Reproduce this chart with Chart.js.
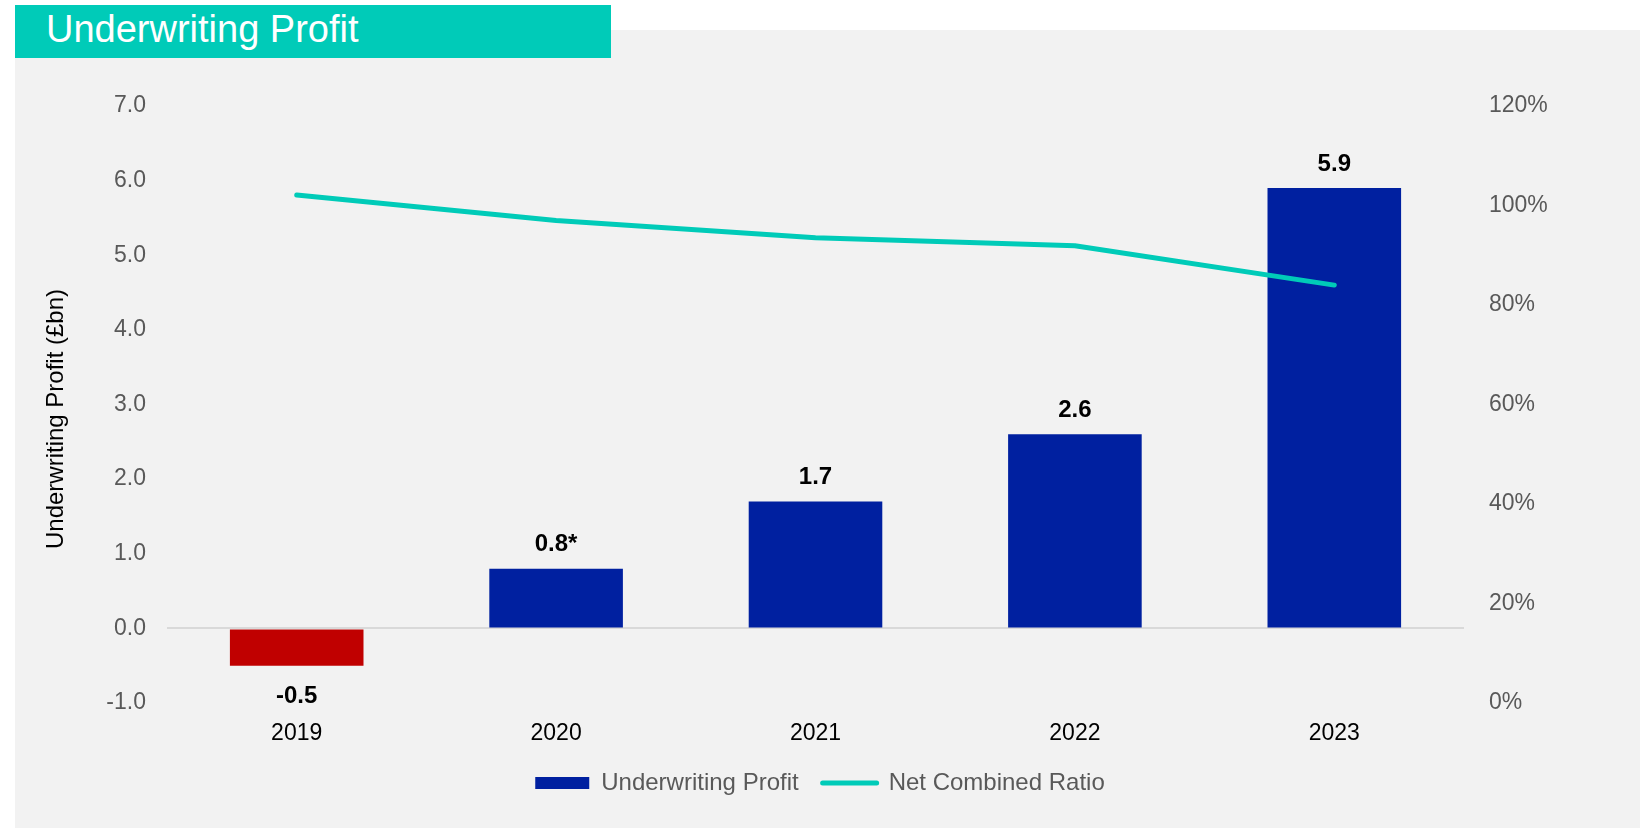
<!DOCTYPE html>
<html>
<head>
<meta charset="utf-8">
<title>Underwriting Profit</title>
<script src="https://cdn.jsdelivr.net/npm/chart.js@4/dist/chart.umd.min.js"></script>
<style>
    html, body { margin: 0; padding: 0; background: #ffffff; }
    body { width: 1640px; height: 829px; position: relative; overflow: hidden; font-family: "Liberation Sans", Arial, sans-serif; }
    #panel { position: absolute; left: 15px; top: 30px; right: 0; bottom: 1px; background: #f2f2f2; }
    #titleBox { position: absolute; left: 15px; top: 5px; width: 596px; height: 53px; background: #00cbb8; }
    #titleBox span { position: absolute; left: 31px; top: 5px; color: #ffffff; font-size: 38px; line-height: 38px; }
    #chart { position: absolute; left: 0; top: 0; }
</style>
</head>
<body>
<div id="panel"></div>
<div id="titleBox"><span>Underwriting Profit</span></div>
<canvas id="chart" width="1640" height="829"></canvas>

<script>
// chart data
const years = ['2019', '2020', '2021', '2022', '2023'];
const profit = [-0.5, 0.8, 1.7, 2.6, 5.9];             // £bn
const profitNotes = ['', '*', '', '', ''];             // 2020 figure is footnoted
const combinedRatio = [102.1, 97.0, 93.5, 91.9, 84.0]; // %

const BLUE = '#0020a0';
const RED = '#c00000';
const TEAL = '#00cbb8';
const GREY_TEXT = '#595959';
const FONT = '"Liberation Sans", Arial, sans-serif';

// value labels above / below each bar
const barLabels = {
    id: 'barLabels',
    afterDatasetsDraw(chart) {
        const ctx = chart.ctx;
        const meta = chart.getDatasetMeta(0);
        ctx.save();
        ctx.font = 'bold 24px ' + FONT;
        ctx.fillStyle = '#000000';
        ctx.textAlign = 'center';
        ctx.textBaseline = 'middle';
        meta.data.forEach((bar, i) => {
            const v = profit[i];
            const text = v.toFixed(1) + profitNotes[i];
            const y = v >= 0 ? bar.y - 24 : bar.y + 31;
            ctx.fillText(text, bar.x, y);
        });
        ctx.restore();
    }
};

// rotated title for the left axis
const leftTitle = {
    id: 'leftTitle',
    afterDraw(chart) {
        const ctx = chart.ctx;
        ctx.save();
        ctx.translate(56, 419);
        ctx.rotate(-Math.PI / 2);
        ctx.font = '24px ' + FONT;
        ctx.fillStyle = '#000000';
        ctx.textAlign = 'center';
        ctx.textBaseline = 'middle';
        ctx.fillText('Underwriting Profit (£bn)', 0, 0);
        ctx.restore();
    }
};

const ctx = document.getElementById('chart').getContext('2d');
new Chart(ctx, {
    type: 'bar',
    data: {
        labels: years,
        datasets: [{
            type: 'bar',
            label: 'Underwriting Profit',
            data: profit,
            backgroundColor: profit.map(v => v < 0 ? RED : BLUE),
            borderWidth: 0,
            barPercentage: 0.515,
            categoryPercentage: 1,
            yAxisID: 'y',
            order: 1
        }, {
            type: 'line',
            label: 'Net Combined Ratio',
            data: combinedRatio,
            borderColor: TEAL,
            backgroundColor: TEAL,
            borderWidth: 5,
            borderCapStyle: 'round',
            borderJoinStyle: 'round',
            pointRadius: 0,
            tension: 0,
            yAxisID: 'y1',
            order: 0
        }]
    },
    options: {
        responsive: false,
        animation: false,
        layout: { padding: { top: 106, left: 0, right: 0, bottom: 24 } },
        plugins: {
            tooltip: { enabled: false },
            legend: {
                position: 'bottom',
                labels: {
                    usePointStyle: true,
                    pointStyleWidth: 54,
                    boxHeight: 12,
                    padding: 24,
                    color: GREY_TEXT,
                    font: { size: 24, family: FONT },
                    sort: (a, b) => a.datasetIndex - b.datasetIndex,
                    generateLabels(chart) {
                        const items = Chart.defaults.plugins.legend.labels.generateLabels(chart);
                        items.forEach(item => {
                            if (item.datasetIndex === 0) {
                                item.pointStyle = 'rect';
                                item.fillStyle = BLUE;
                                item.strokeStyle = BLUE;
                                item.lineWidth = 0;
                            } else {
                                item.pointStyle = 'line';
                                item.lineCap = 'round';
                            }
                        });
                        return items;
                    }
                }
            }
        },
        scales: {
            x: {
                grid: { display: false },
                border: { display: false },
                ticks: {
                    color: '#000000',
                    padding: 9,
                    font: { size: 23, family: FONT }
                },
                afterFit(scale) { scale.height = 44; }
            },
            y: {
                position: 'left',
                min: -1,
                max: 7,
                border: { display: false },
                grid: {
                    drawTicks: false,
                    lineWidth: 2,
                    color: c => c.tick && c.tick.value === 0 ? '#d9d9d9' : 'rgba(0,0,0,0)'
                },
                ticks: {
                    stepSize: 1,
                    padding: 21,
                    color: GREY_TEXT,
                    font: { size: 23, family: FONT },
                    callback: v => v.toFixed(1)
                },
                afterFit(scale) { scale.width = 167; }
            },
            y1: {
                position: 'right',
                min: 0,
                max: 120,
                border: { display: false },
                grid: { display: false, drawTicks: false },
                ticks: {
                    stepSize: 20,
                    padding: 25,
                    color: GREY_TEXT,
                    font: { size: 23, family: FONT },
                    callback: v => v + '%'
                },
                afterFit(scale) { scale.width = 176; }
            }
        }
    },
    plugins: [barLabels, leftTitle]
});
</script>
</body>
</html>
